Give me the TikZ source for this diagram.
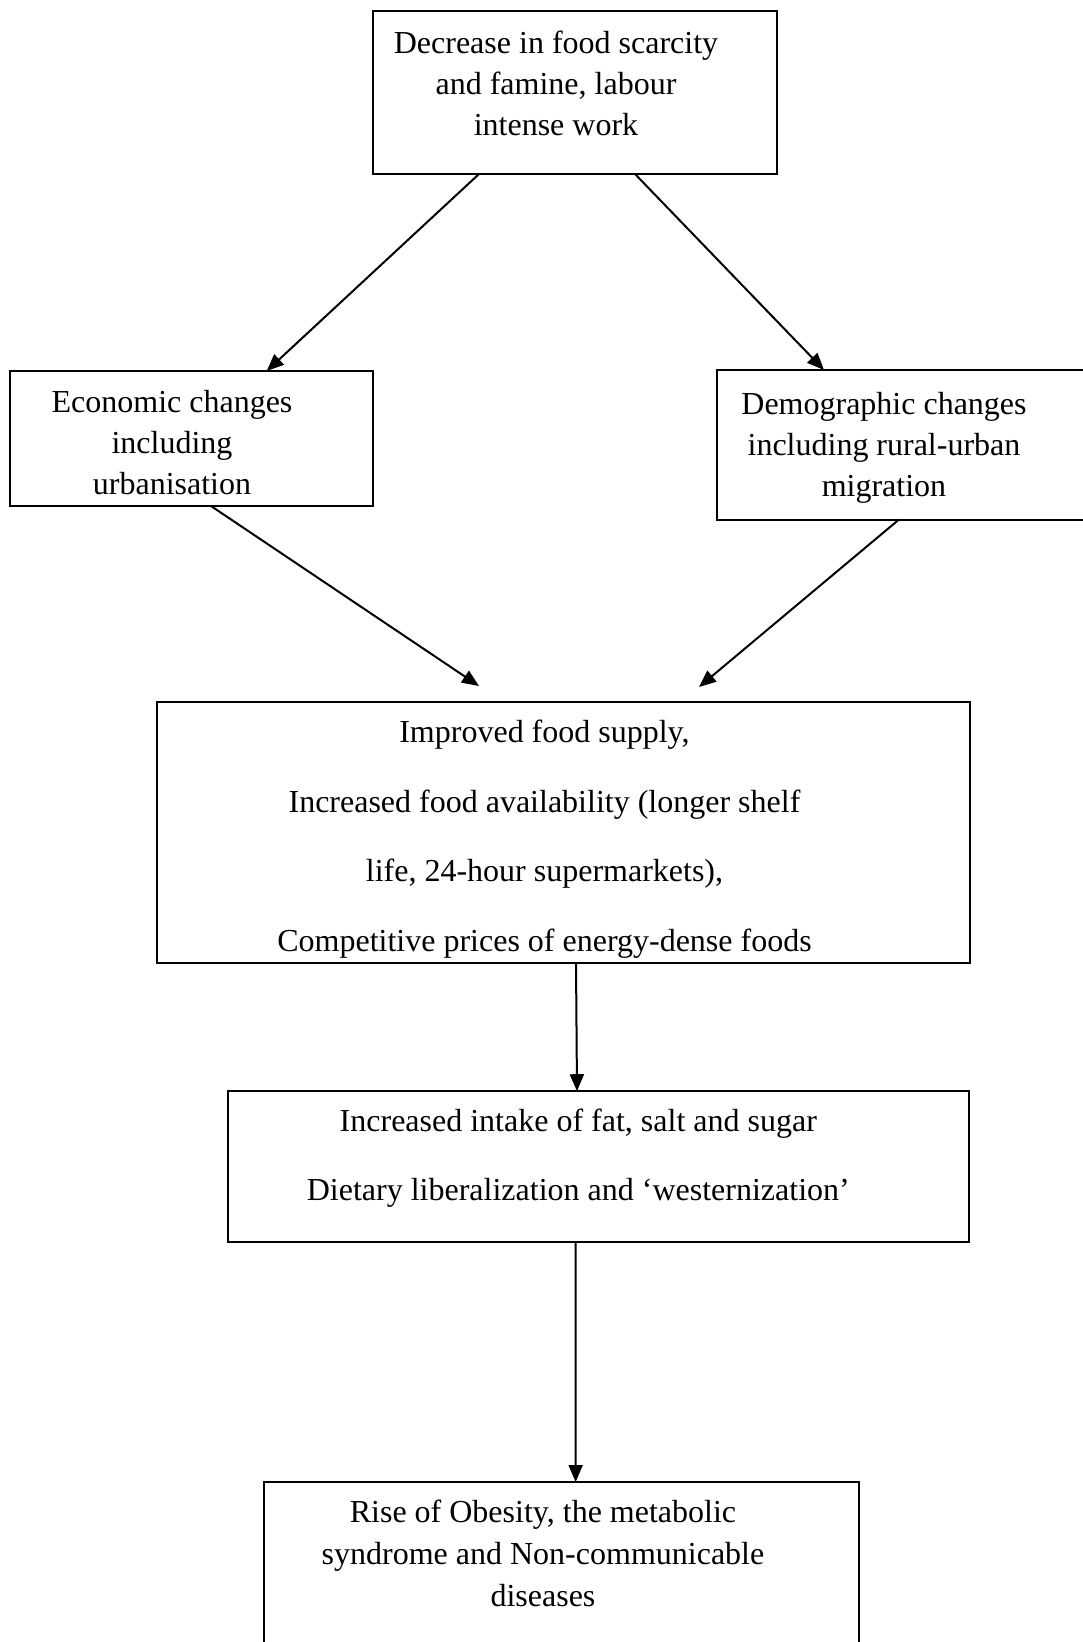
\documentclass[tikz,border=0pt]{standalone}
\usepackage{fontspec}
\setmainfont{Liberation Serif}
\usetikzlibrary{arrows.meta,calc}
\begin{document}
\begin{tikzpicture}[x=1pt,y=-1pt,
  box/.style={draw,line width=2pt,inner sep=0pt,outer sep=0pt,rectangle},
  txt/.style={anchor=base,align=center,inner sep=0pt,font=\fontsize{32}{41}\selectfont},
  arr/.style={line width=2pt,-{Triangle[length=17pt,width=14pt]}}]
\useasboundingbox (0,0) rectangle (1083,1642);
\clip (0,0) rectangle (1083,1642);
\fill[white] (0,0) rectangle (1083,1642);
% boxes
\node[box,minimum width=404pt,minimum height=163pt] (top) at (575,92.5) {};
\node[box,minimum width=363pt,minimum height=135pt] (econ) at (191.5,438.5) {};
\node[box,minimum width=383.5pt,minimum height=149.5pt] (demo) at (908.25,444.75) {};
\node[box,minimum width=813.5pt,minimum height=260.5pt] (imp) at (563.25,832.25) {};
\node[box,minimum width=740.4pt,minimum height=150.8pt] (intake) at (598.5,1166.6) {};
\node[box,minimum width=594.7pt,minimum height=238pt] (bottom) at (561.35,1601) {};
% texts (anchor = baseline of the last line)
\node[txt] (topT) at (556,135) {Decrease in food scarcity\\and famine, labour\\intense work};
\node[txt] (econT) at (172,494) {Economic changes\\including\\urbanisation};
\node[txt] (demoT) at (884,496) {Demographic changes\\including rural-urban\\migration};
\begin{scope}
\clip (157,703) rectangle (969,958);
\node[txt,font=\fontsize{32}{69.5}\selectfont] (impT) at (544.5,951) {Improved food supply,\\Increased food availability (longer shelf\\life, 24-hour supermarkets),\\Competitive prices of energy-dense foods};
\end{scope}
\node[txt,font=\fontsize{32}{69}\selectfont] (intakeT) at (578.3,1200) {Increased intake of fat, salt and sugar\\Dietary liberalization and `westernization'};
\node[txt,font=\fontsize{32}{42}\selectfont] (bottomT) at (543,1606.4) {Rise of Obesity, the metabolic\\syndrome and Non-communicable\\diseases};
% connectors
\draw[arr] ($(top.south)+(-96,0)$) -- ($(econ.north)+(75.2,0)$);
\draw[arr] ($(top.south)+(60,0)$) -- ($(demo.north)+(-84.25,0)$);
\draw[arr] ($(econ.south)+(19.5,0)$) -- ($(imp.north)+(-84.25,-16)$);
\draw[arr] ($(demo.south)+(-9.25,0)$) -- ($(imp.north)+(135.75,-15)$);
\draw[arr] ($(imp.south)+(12.75,0)$) -- ($(intake.north)+(-21.5,0)$);
\draw[arr] ($(intake.south)+(-23,0)$) -- ($(bottom.north)+(14.3,0)$);
\end{tikzpicture}
\end{document}
